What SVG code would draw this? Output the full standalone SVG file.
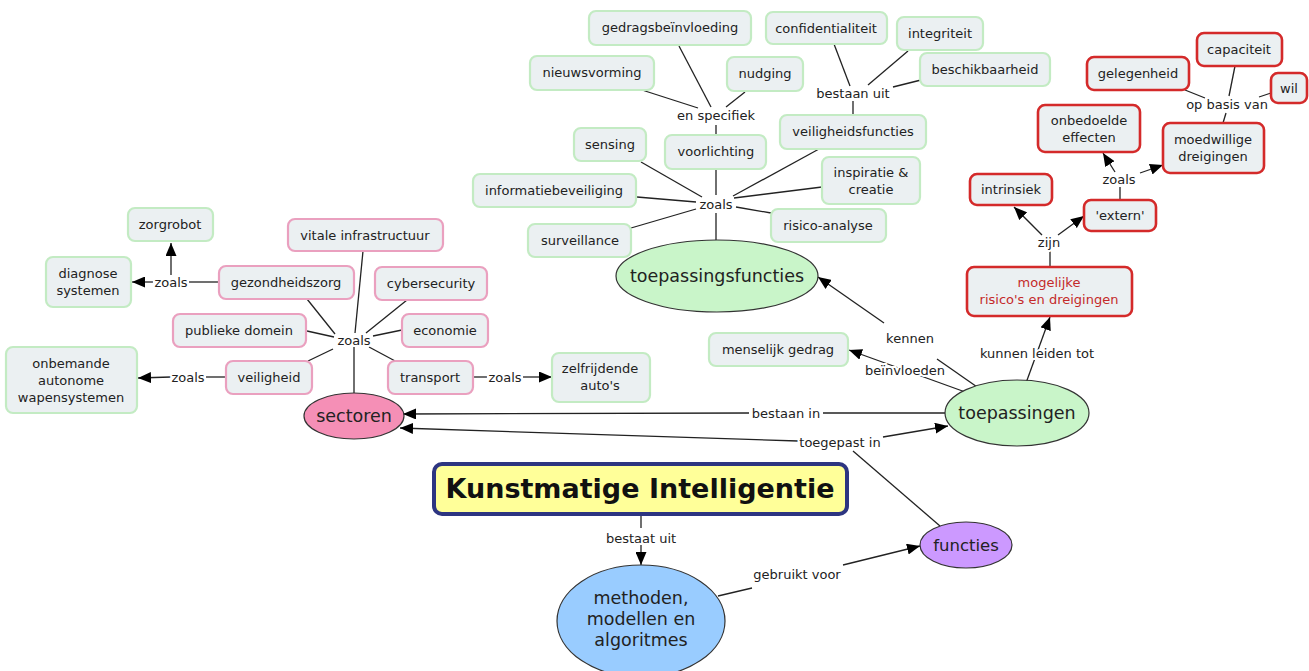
<svg xmlns="http://www.w3.org/2000/svg" width="1309" height="671" viewBox="0 0 1309 671">
<defs>
<marker id="ah" markerUnits="userSpaceOnUse" markerWidth="13" markerHeight="11" refX="13" refY="5.5" orient="auto">
<path d="M0,0 L13,5.5 L0,11 z" fill="#000"/>
</marker>
<style>
text{font-family:"DejaVu Sans",Verdana,sans-serif;font-size:13px;fill:#222;text-anchor:middle}
.n rect{fill:#ebf0f2;stroke-width:2.2}
.g rect{stroke:#c3ebc3}
.p rect{stroke:#eaa0bf}
.r rect{stroke:#d42a2a;stroke-width:2.6}
.e ellipse{stroke:#333;stroke-width:1.2}
.e text{font-size:17.5px}
#conn line{stroke:#222;stroke-width:1.3}
#conn line.a{marker-end:url(#ah)}
.lab{paint-order:stroke;stroke:#fff;stroke-width:4px}
</style>
</defs>
<rect width="1309" height="671" fill="#fff"/>

<g id="conn">
<!-- sectoren hub -->
<line x1="354" y1="393" x2="354" y2="347"/>
<line x1="363" y1="251" x2="355" y2="333"/>
<line x1="307" y1="299" x2="335" y2="334"/>
<line x1="407" y1="300" x2="366" y2="333"/>
<line x1="307" y1="331" x2="334" y2="337"/>
<line x1="402" y1="330" x2="373" y2="336"/>
<line x1="308" y1="361" x2="333" y2="349"/>
<line x1="397" y1="362" x2="369" y2="347"/>
<!-- gezondheidszorg -->
<line x1="219" y1="282" x2="189" y2="282"/>
<line class="a" x1="171" y1="275" x2="171" y2="243"/>
<line class="a" x1="153" y1="282" x2="132" y2="282"/>
<!-- veiligheid -->
<line x1="226" y1="377" x2="206" y2="377"/>
<line class="a" x1="171" y1="377" x2="138" y2="378"/>
<!-- transport -->
<line x1="473" y1="377" x2="487" y2="377"/>
<line class="a" x1="523" y1="377" x2="552" y2="377"/>
<!-- toepassingsfuncties hub -->
<line x1="716" y1="240" x2="716" y2="213"/>
<line x1="641" y1="162" x2="702" y2="197"/>
<line x1="637" y1="197" x2="696" y2="202"/>
<line x1="631" y1="228" x2="696" y2="209"/>
<line x1="716" y1="169" x2="716" y2="195"/>
<line x1="819" y1="149" x2="733" y2="196"/>
<line x1="822" y1="187" x2="734" y2="198"/>
<line x1="771" y1="213" x2="736" y2="207"/>
<!-- en specifiek -->
<line x1="716" y1="135" x2="716" y2="125"/>
<line x1="642" y1="90" x2="698" y2="108"/>
<line x1="679" y1="46" x2="711" y2="107"/>
<line x1="745" y1="92" x2="726" y2="107"/>
<!-- bestaan uit -->
<line x1="853" y1="115" x2="853" y2="101"/>
<line x1="834" y1="44" x2="850" y2="86"/>
<line x1="908" y1="51" x2="868" y2="85"/>
<line x1="921" y1="80" x2="893" y2="87"/>
<!-- risks -->
<line x1="1050" y1="267" x2="1050" y2="251"/>
<line class="a" x1="1042" y1="235" x2="1014" y2="207"/>
<line class="a" x1="1058" y1="235" x2="1084" y2="216"/>
<line x1="1120" y1="200" x2="1120" y2="187"/>
<line class="a" x1="1115" y1="172" x2="1103" y2="153"/>
<line class="a" x1="1140" y1="173" x2="1163" y2="165"/>
<line x1="1223" y1="123" x2="1226" y2="113"/>
<line x1="1185" y1="90" x2="1205" y2="98"/>
<line x1="1235" y1="66" x2="1229" y2="96"/>
<line x1="1271" y1="93" x2="1259" y2="97"/>
<!-- toepassingen -->
<line x1="980" y1="389" x2="937" y2="359"/>
<line class="a" x1="884" y1="323" x2="818" y2="277"/>
<line class="a" x1="968" y1="393" x2="849" y2="350"/>
<line class="a" x1="1026" y1="383" x2="1050" y2="317"/>
<line x1="945" y1="413" x2="823" y2="413"/>
<line class="a" x1="749" y1="413" x2="403" y2="414"/>
<line class="a" x1="798" y1="441" x2="400" y2="428"/>
<line class="a" x1="883" y1="437" x2="948" y2="426"/>
<line x1="940" y1="526" x2="853" y2="451"/>
<!-- KI -->
<line x1="641" y1="516" x2="641" y2="528"/>
<line class="a" x1="641" y1="545" x2="641" y2="565"/>
<line x1="718" y1="596" x2="752" y2="588"/>
<line class="a" x1="843" y1="565" x2="920" y2="546"/>
</g>

<!-- connector labels -->
<g id="labels">
<text class="lab" x="354" y="345">zoals</text>
<text class="lab" x="171" y="287">zoals</text>
<text class="lab" x="188" y="382">zoals</text>
<text class="lab" x="505" y="382">zoals</text>
<text class="lab" x="716" y="209">zoals</text>
<text class="lab" x="716" y="120">en specifiek</text>
<text class="lab" x="853" y="98">bestaan uit</text>
<text class="lab" x="1049" y="247">zijn</text>
<text class="lab" x="1119" y="184">zoals</text>
<text class="lab" x="1227" y="109">op basis van</text>
<text class="lab" x="910" y="343">kennen</text>
<text class="lab" x="905" y="375">beïnvloeden</text>
<text class="lab" x="1037" y="358">kunnen leiden tot</text>
<text class="lab" x="786" y="418">bestaan in</text>
<text class="lab" x="840" y="447">toegepast in</text>
<text class="lab" x="641" y="543">bestaat uit</text>
<text class="lab" x="797" y="579">gebruikt voor</text>
</g>

<!-- sector nodes -->
<g id="zorgrobot" class="n g"><rect x="128" y="208" width="85" height="33" rx="7"/><text x="170" y="229">zorgrobot</text></g>
<g id="diagnose" class="n g"><rect x="46" y="257" width="85" height="50" rx="7"/><text x="88" y="278">diagnose<tspan x="88" dy="17">systemen</tspan></text></g>
<g id="gezondheidszorg" class="n p"><rect x="219" y="266" width="135" height="33" rx="7"/><text x="286" y="287">gezondheidszorg</text></g>
<g id="vitale" class="n p"><rect x="288" y="219" width="155" height="32" rx="7"/><text x="365" y="240">vitale infrastructuur</text></g>
<g id="cybersecurity" class="n p"><rect x="375" y="267" width="112" height="33" rx="7"/><text x="431" y="288">cybersecurity</text></g>
<g id="publiek" class="n p"><rect x="173" y="314" width="133" height="33" rx="7"/><text x="239" y="335">publieke domein</text></g>
<g id="economie" class="n p"><rect x="402" y="314" width="86" height="33" rx="7"/><text x="445" y="335">economie</text></g>
<g id="veiligheid" class="n p"><rect x="226" y="361" width="86" height="33" rx="7"/><text x="269" y="382">veiligheid</text></g>
<g id="transport" class="n p"><rect x="388" y="361" width="85" height="33" rx="7"/><text x="430" y="382">transport</text></g>
<g id="onbemande" class="n g"><rect x="6" y="347" width="131" height="66" rx="7"/><text x="71" y="368">onbemande<tspan x="71" dy="17">autonome</tspan><tspan x="71" dy="17">wapensystemen</tspan></text></g>
<g id="zelfrijdende" class="n g"><rect x="552" y="353" width="98" height="49" rx="7"/><text x="600" y="373">zelfrijdende<tspan x="600" dy="17">auto's</tspan></text></g>

<!-- toepassingsfuncties nodes -->
<g id="gedrag" class="n g"><rect x="589" y="11" width="162" height="34" rx="7"/><text x="670" y="32">gedragsbeïnvloeding</text></g>
<g id="nieuws" class="n g"><rect x="530" y="56" width="124" height="34" rx="7"/><text x="592" y="77">nieuwsvorming</text></g>
<g id="nudging" class="n g"><rect x="727" y="57" width="76" height="34" rx="7"/><text x="765" y="78">nudging</text></g>
<g id="sensing" class="n g"><rect x="574" y="128" width="72" height="33" rx="7"/><text x="610" y="149">sensing</text></g>
<g id="voorlichting" class="n g"><rect x="665" y="135" width="101" height="34" rx="7"/><text x="716" y="156">voorlichting</text></g>
<g id="infobev" class="n g"><rect x="473" y="174" width="163" height="33" rx="7"/><text x="554" y="195">informatiebeveiliging</text></g>
<g id="surveillance" class="n g"><rect x="528" y="224" width="103" height="33" rx="7"/><text x="580" y="245">surveillance</text></g>
<g id="conf" class="n g"><rect x="766" y="12" width="121" height="32" rx="7"/><text x="826" y="33">confidentialiteit</text></g>
<g id="integriteit" class="n g"><rect x="897" y="17" width="86" height="33" rx="7"/><text x="940" y="38">integriteit</text></g>
<g id="beschikbaarheid" class="n g"><rect x="920" y="53" width="130" height="33" rx="7"/><text x="985" y="74">beschikbaarheid</text></g>
<g id="veiligheidsfuncties" class="n g"><rect x="780" y="115" width="146" height="34" rx="7"/><text x="853" y="136">veiligheidsfuncties</text></g>
<g id="inspiratie" class="n g"><rect x="822" y="157" width="98" height="47" rx="7"/><text x="871" y="177">inspiratie &amp;<tspan x="871" dy="17">creatie</tspan></text></g>
<g id="risicoanalyse" class="n g"><rect x="771" y="209" width="115" height="33" rx="7"/><text x="828" y="230">risico-analyse</text></g>
<g id="menselijk" class="n g"><rect x="709" y="333" width="139" height="33" rx="7"/><text x="778" y="354">menselijk gedrag</text></g>

<!-- risk nodes -->
<g id="capaciteit" class="n r"><rect x="1197" y="33" width="85" height="33" rx="7"/><text x="1239" y="54">capaciteit</text></g>
<g id="gelegenheid" class="n r"><rect x="1087" y="57" width="102" height="33" rx="7"/><text x="1138" y="78">gelegenheid</text></g>
<g id="wil" class="n r"><rect x="1271" y="73" width="36" height="30" rx="7"/><text x="1289" y="93">wil</text></g>
<g id="onbedoelde" class="n r"><rect x="1038" y="105" width="102" height="47" rx="7"/><text x="1089" y="125">onbedoelde<tspan x="1089" dy="17">effecten</tspan></text></g>
<g id="moedwillige" class="n r"><rect x="1163" y="123" width="101" height="50" rx="7"/><text x="1213" y="144">moedwillige<tspan x="1213" dy="17">dreigingen</tspan></text></g>
<g id="intrinsiek" class="n r"><rect x="970" y="174" width="82" height="31" rx="7"/><text x="1011" y="194">intrinsiek</text></g>
<g id="extern" class="n r"><rect x="1084" y="200" width="72" height="31" rx="7"/><text x="1120" y="220">'extern'</text></g>
<g id="mogelijke" class="n r"><rect x="967" y="267" width="165" height="49" rx="7"/><text x="1049" y="287" style="fill:#c42a2a">mogelijke<tspan x="1049" dy="17">risico's en dreigingen</tspan></text></g>

<!-- ellipses -->
<g id="sectoren" class="e"><ellipse cx="354" cy="416" rx="50" ry="23" fill="#f58fb6"/><text x="354" y="422">sectoren</text></g>
<g id="toepassingsfuncties" class="e"><ellipse cx="717" cy="276" rx="101" ry="36" fill="#c9f5c9"/><text x="717" y="282">toepassingsfuncties</text></g>
<g id="toepassingen" class="e"><ellipse cx="1017" cy="413" rx="72" ry="33" fill="#c9f5c9"/><text x="1017" y="419">toepassingen</text></g>
<g id="methoden" class="e"><ellipse cx="641" cy="621" rx="84" ry="56" fill="#99ccff"/><text x="641" y="604">methoden,<tspan x="641" dy="21">modellen en</tspan><tspan x="641" dy="21">algoritmes</tspan></text></g>
<g id="functies" class="e"><ellipse cx="966" cy="545" rx="46" ry="23" fill="#cc99ff"/><text x="966" y="551" style="font-size:16.5px">functies</text></g>

<g id="ki"><rect x="434" y="464" width="413" height="50" rx="8" fill="#ffff99" stroke="#2d3581" stroke-width="4"/><text x="640" y="498" style="font-size:27px;font-weight:bold;fill:#111">Kunstmatige Intelligentie</text></g>
</svg>
